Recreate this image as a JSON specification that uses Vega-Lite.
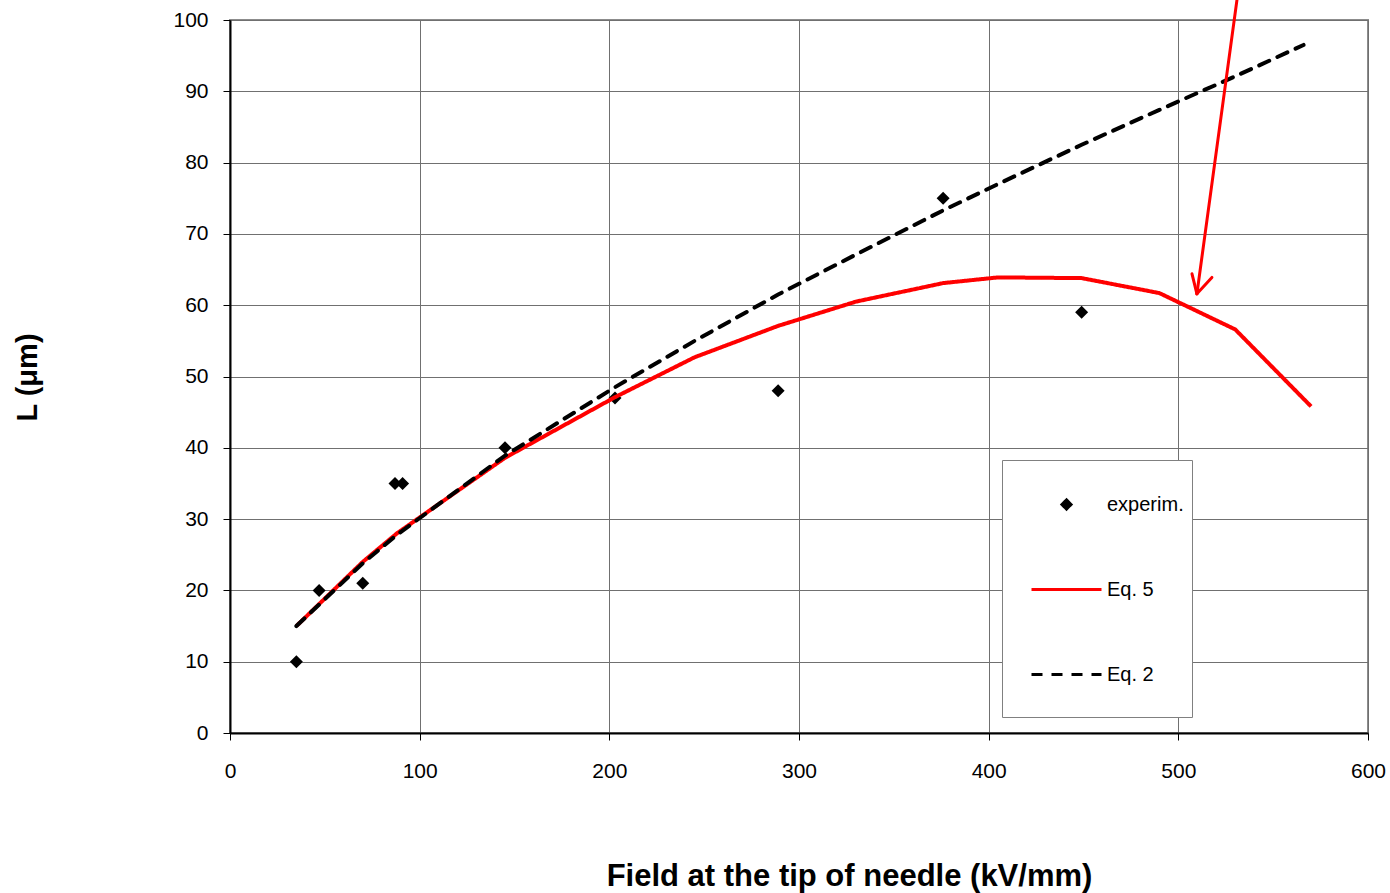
{
  "$schema": "https://vega.github.io/schema/vega-lite/v6.json",
  "width": 1138,
  "height": 713,
  "autosize": {"type": "none"},
  "padding": {"left": 230, "top": 20, "right": 22, "bottom": 160},
  "background": "white",
  "config": {
    "view": {"stroke": "#8c8c8c", "strokeWidth": 2},
    "font": "Liberation Sans"
  },
  "datasets": {
    "exp": [
      {"x": 35, "y": 10, "series": "experim."},
      {"x": 47, "y": 20, "series": "experim."},
      {"x": 70, "y": 21, "series": "experim."},
      {"x": 87, "y": 35, "series": "experim."},
      {"x": 91, "y": 35, "series": "experim."},
      {"x": 145, "y": 40, "series": "experim."},
      {"x": 203, "y": 47, "series": "experim."},
      {"x": 289, "y": 48, "series": "experim."},
      {"x": 376, "y": 75, "series": "experim."},
      {"x": 449, "y": 59, "series": "experim."}
    ],
    "eq5": [
      {"x": 35, "y": 15, "series": "Eq. 5"},
      {"x": 70, "y": 24, "series": "Eq. 5"},
      {"x": 88, "y": 28, "series": "Eq. 5"},
      {"x": 145, "y": 38.6, "series": "Eq. 5"},
      {"x": 203, "y": 47.1, "series": "Eq. 5"},
      {"x": 245, "y": 52.7, "series": "Eq. 5"},
      {"x": 289, "y": 57.1, "series": "Eq. 5"},
      {"x": 330, "y": 60.5, "series": "Eq. 5"},
      {"x": 376, "y": 63.1, "series": "Eq. 5"},
      {"x": 405, "y": 63.9, "series": "Eq. 5"},
      {"x": 449, "y": 63.8, "series": "Eq. 5"},
      {"x": 490, "y": 61.7, "series": "Eq. 5"},
      {"x": 530, "y": 56.6, "series": "Eq. 5"},
      {"x": 570, "y": 45.8, "series": "Eq. 5"}
    ],
    "eq2": [
      {"x": 35, "y": 15, "series": "Eq. 2"},
      {"x": 70, "y": 23.8, "series": "Eq. 2"},
      {"x": 88, "y": 27.8, "series": "Eq. 2"},
      {"x": 145, "y": 38.9, "series": "Eq. 2"},
      {"x": 203, "y": 48.5, "series": "Eq. 2"},
      {"x": 245, "y": 55.0, "series": "Eq. 2"},
      {"x": 289, "y": 61.5, "series": "Eq. 2"},
      {"x": 330, "y": 67.1, "series": "Eq. 2"},
      {"x": 376, "y": 73.3, "series": "Eq. 2"},
      {"x": 405, "y": 77.0, "series": "Eq. 2"},
      {"x": 449, "y": 82.5, "series": "Eq. 2"},
      {"x": 490, "y": 87.4, "series": "Eq. 2"},
      {"x": 530, "y": 92.1, "series": "Eq. 2"},
      {"x": 566, "y": 96.5, "series": "Eq. 2"}
    ],
    "arrow": [
      {"x": 530.9, "y": 102.8, "x2": 509.8, "y2": 61.6},
      {"x": 507.2, "y": 64.4, "x2": 509.8, "y2": 61.6},
      {"x": 517.7, "y": 63.9, "x2": 509.8, "y2": 61.6}
    ]
  },
  "encoding": {
    "x": {
      "field": "x",
      "type": "quantitative",
      "scale": {"domain": [0, 600], "nice": false, "zero": false},
      "axis": {
        "values": [0, 100, 200, 300, 400, 500, 600],
        "format": "d",
        "labelFlush": false,
        "labelFont": "Liberation Sans",
        "labelFontSize": 21,
        "labelColor": "black",
        "labelPadding": 20,
        "tickSize": 7,
        "tickColor": "black",
        "domainColor": "black",
        "domainWidth": 2,
        "grid": true,
        "gridColor": "#707070",
        "gridWidth": 1,
        "title": "Field at the tip of needle (kV/mm)",
        "titleFont": "Liberation Sans",
        "titleFontSize": 31,
        "titleFontWeight": "bold",
        "titleColor": "black",
        "titleX": 619,
        "titleY": 152,
        "titleBaseline": "alphabetic",
        "titleAlign": "center"
      }
    },
    "y": {
      "field": "y",
      "type": "quantitative",
      "scale": {"domain": [0, 100], "nice": false, "zero": false},
      "axis": {
        "values": [0, 10, 20, 30, 40, 50, 60, 70, 80, 90, 100],
        "format": "d",
        "labelFlush": false,
        "labelFont": "Liberation Sans",
        "labelFontSize": 21,
        "labelColor": "black",
        "labelPadding": 15,
        "tickSize": 7,
        "tickColor": "black",
        "domainColor": "black",
        "domainWidth": 2,
        "grid": true,
        "gridColor": "#707070",
        "gridWidth": 1,
        "title": "L (μm)",
        "titleFont": "Liberation Sans",
        "titleFontSize": 29,
        "titleFontWeight": "bold",
        "titleColor": "black",
        "titleAngle": 270,
        "titleX": -194,
        "titleY": 357,
        "titleBaseline": "alphabetic",
        "titleAlign": "center"
      }
    }
  },
  "layer": [
    {
      "data": {"name": "exp"},
      "mark": {"type": "point", "filled": true, "size": 10000, "opacity": 1},
      "encoding": {
        "shape": {
          "field": "series",
          "type": "nominal",
          "scale": {"domain": ["experim.", "Eq. 5", "Eq. 2"], "range": ["M0,-0.13L0.13,0L0,0.13L-0.13,0ZM0,-1M0,0.8", "M-1,0L1,0M0,-1M0,0.8", "M-1,0L1,0M0,-1M0,0.8"]}
        },
        "color": {
          "field": "series",
          "type": "nominal",
          "scale": {"domain": ["experim.", "Eq. 5", "Eq. 2"], "range": ["black", "red", "black"]},
          "legend": {
            "orient": "none",
            "legendX": 772,
            "legendY": 440,
            "title": null,
            "padding": 8,
            "rowPadding": 9,
            "symbolSize": 4900,
            "symbolOffset": 20,
            "symbolStrokeWidth": 3,
            "labelOffset": 4,
            "labelFont": "Liberation Sans",
            "labelFontSize": 20,
            "labelColor": "black",
            "strokeColor": "#808080",
            "fillColor": "white"
          }
        }
      }
    },
    {
      "data": {"name": "eq5"},
      "mark": {"type": "line", "strokeWidth": 4},
      "encoding": {
        "color": {"field": "series", "type": "nominal"},
        "strokeDash": {
          "field": "series",
          "type": "nominal",
          "scale": {"domain": ["experim.", "Eq. 5", "Eq. 2"], "range": [[1, 0], [1, 0], [11, 9]]}
        }
      }
    },
    {
      "data": {"name": "eq2"},
      "mark": {"type": "line", "strokeWidth": 4, "strokeCap": "round"},
      "encoding": {
        "color": {"field": "series", "type": "nominal"},
        "strokeDash": {"field": "series", "type": "nominal"}
      }
    },
    {
      "data": {"name": "arrow"},
      "mark": {"type": "rule", "color": "red", "strokeWidth": 3, "strokeCap": "round"},
      "encoding": {
        "x2": {"field": "x2"},
        "y2": {"field": "y2"}
      }
    }
  ]
}
